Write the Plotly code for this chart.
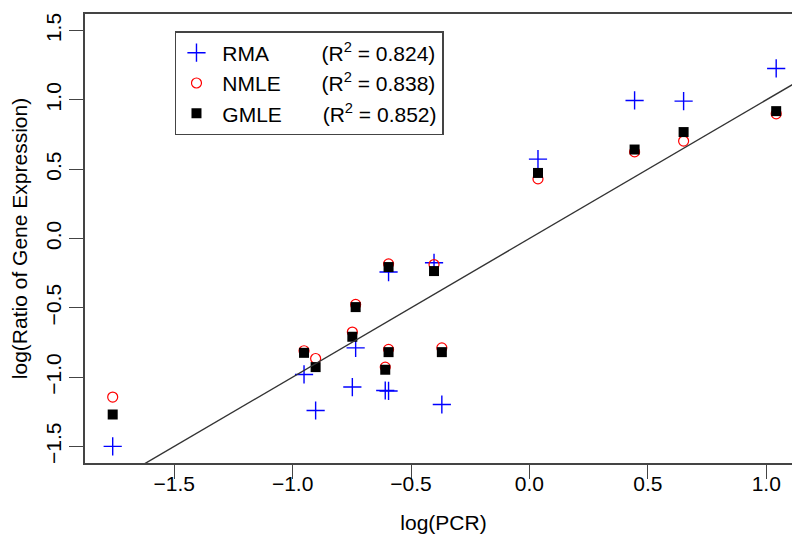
import plotly.graph_objects as go

# ---- data ----
log_pcr = [-1.760, -0.952, -0.903, -0.748, -0.734, -0.609, -0.595, -0.595,
           -0.403, -0.370, 0.036, 0.444, 0.651, 1.042]
rma = [-1.500, -0.981, -1.241, -1.072, -0.789, -1.097, -1.100, -0.242,
       -0.175, -1.198, 0.573, 0.996, 0.991, 1.227]
nmle = [-1.144, -0.810, -0.866, -0.675, -0.476, -0.928, -0.800, -0.183,
        -0.188, -0.789, 0.430, 0.625, 0.703, 0.900]
gmle = [-1.270, -0.825, -0.928, -0.709, -0.495, -0.947, -0.820, -0.206,
        -0.235, -0.820, 0.473, 0.642, 0.768, 0.919]
series_names = ["RMA", "NMLE", "GMLE"]
r2_values = ["0.824", "0.838", "0.852"]
line_intercept = 0.0
line_slope = 1.0

x_range = [-1.877, 1.151]
y_range = [-1.62, 1.62]
tick_vals = [-1.5, -1.0, -0.5, 0.0, 0.5, 1.0, 1.5]

FONT = "Liberation Sans, Arial, sans-serif"
FS = 21

pads = {"RMA": 9, "NMLE": 7, "GMLE": 7}


def legend_label(name, r2):
    return "\u00a0" + name + "\u00a0" * pads[name] + "(R<sup>2</sup> = " + r2 + ")"


fig = go.Figure()

fig.add_trace(go.Scatter(
    x=log_pcr, y=rma, mode="markers",
    name=legend_label(series_names[0], r2_values[0]),
    marker=dict(symbol="cross-thin", size=13, color="#0000FF",
                line=dict(color="#0000FF", width=1.4)),
))
fig.add_trace(go.Scatter(
    x=log_pcr, y=nmle, mode="markers",
    name=legend_label(series_names[1], r2_values[1]),
    marker=dict(symbol="circle-open", size=10, color="#FF0000",
                line=dict(color="#FF0000", width=1.2)),
))
fig.add_trace(go.Scatter(
    x=log_pcr, y=gmle, mode="markers",
    name=legend_label(series_names[2], r2_values[2]),
    marker=dict(symbol="square", size=10, color="#000000",
                line=dict(width=0)),
))

line_x = list(x_range)
line_y = [line_intercept + line_slope * v for v in line_x]
fig.add_trace(go.Scatter(
    x=line_x, y=line_y, mode="lines", showlegend=False,
    line=dict(color="#333333", width=1.4), hoverinfo="skip",
))

axis_common = dict(
    showgrid=False, zeroline=False, showline=True, mirror=True,
    linecolor="#444444", linewidth=1.5,
    ticks="outside", ticklen=14, tickwidth=1.4, tickcolor="#444444",
    tickfont=dict(family=FONT, size=FS, color="#000000"),
    tickformat=".1f", automargin=False,
)

fig.update_xaxes(range=x_range, tickvals=tick_vals[:-1], ticklabelstandoff=-13,
                 title=dict(text="log(PCR)", font=dict(family=FONT, size=FS, color="#000000"),
                            standoff=21),
                 **axis_common)
fig.update_yaxes(range=y_range, tickvals=tick_vals, tickangle=-90,
                 title=dict(text="log(Ratio of Gene Expression)",
                            font=dict(family=FONT, size=FS, color="#000000"),
                            standoff=10),
                 **axis_common)

fig.update_layout(
    width=800, height=537,
    margin=dict(l=77, r=6, t=6, b=82),
    plot_bgcolor="white", paper_bgcolor="white",
    font=dict(family=FONT, size=FS, color="#000000"),
    showlegend=True,
    legend=dict(x=0.1255, y=0.962, xanchor="left", yanchor="top",
                bgcolor="white", bordercolor="#444444", borderwidth=1.5,
                font=dict(family=FONT, size=FS, color="#000000"),
                tracegroupgap=0, itemsizing="trace"),
)

fig.write_html("out.html")
